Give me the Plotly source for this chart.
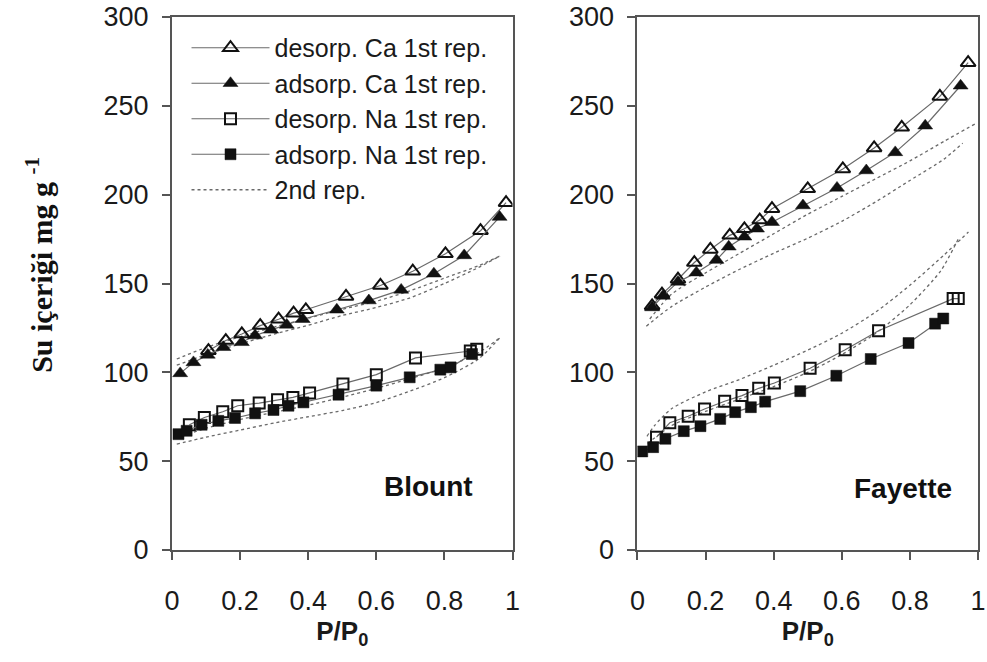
import plotly.graph_objects as go
from plotly.subplots import make_subplots

# ---------------- Blount (left panel) ----------------
b_ca_des_x = [0.107, 0.158, 0.205, 0.259, 0.313, 0.357, 0.393, 0.511, 0.612, 0.707, 0.803, 0.906, 0.981]
b_ca_des_y = [112.2, 117.9, 121.6, 126.3, 129.9, 133.3, 135.2, 142.7, 148.9, 156.9, 166.7, 179.7, 195.5]
b_ca_ads_x = [0.024, 0.063, 0.105, 0.151, 0.205, 0.244, 0.291, 0.337, 0.384, 0.484, 0.578, 0.673, 0.769, 0.858, 0.962]
b_ca_ads_y = [99.4, 105.6, 109.8, 114.1, 116.9, 120.7, 123.9, 126.7, 129.9, 135.2, 140.4, 146.4, 155.5, 165.8, 187.4]
b_na_des_x = [0.051, 0.095, 0.149, 0.193, 0.256, 0.31, 0.355, 0.404, 0.502, 0.6, 0.715, 0.876, 0.895]
b_na_des_y = [70.5, 74.6, 77.8, 81.2, 82.7, 84.6, 85.9, 88.4, 93.4, 98.7, 108.1, 112.0, 113.0]
b_na_ads_x = [0.019, 0.043, 0.087, 0.136, 0.185, 0.244, 0.298, 0.342, 0.386, 0.489, 0.6, 0.698, 0.788, 0.818, 0.881]
b_na_ads_y = [65.2, 67.1, 70.5, 72.7, 74.3, 76.9, 78.8, 81.2, 83.1, 87.4, 92.5, 97.2, 101.5, 102.8, 110.3]

b2_x = [0.014, 0.1, 0.2, 0.3, 0.4, 0.5, 0.6, 0.7, 0.8, 0.9, 0.963]
b2_ca_des_y = [107.5, 114, 120, 125.5, 130.5, 135.5, 140, 146, 153, 160, 165.5]
b2_ca_ads_y = [104, 110, 116, 121.5, 126.5, 132, 136.5, 142, 150, 159, 165.5]
b2_na_des_y = [63, 68.5, 73.5, 77.5, 81.5, 86, 91, 96.5, 102.5, 111, 119.5]
b2_na_ads_y = [59.6, 63.5, 67.5, 71.5, 75, 78.5, 83, 89.5, 97, 107.5, 119.5]

# ---------------- Fayette (right panel) ----------------
f_ca_des_x = [0.043, 0.072, 0.119, 0.167, 0.214, 0.271, 0.314, 0.359, 0.395, 0.5, 0.603, 0.695, 0.776, 0.888, 0.971]
f_ca_des_y = [137.4, 144, 152.4, 161.8, 169.2, 177.1, 180.8, 185.7, 192.1, 203.3, 214.5, 226.3, 237.9, 255.3, 274.3]
f_ca_ads_x = [0.043, 0.075, 0.119, 0.173, 0.232, 0.268, 0.314, 0.351, 0.395, 0.486, 0.586, 0.672, 0.757, 0.845, 0.949]
f_ca_ads_y = [136.5, 143, 150.9, 156.1, 163.2, 170.7, 176.3, 180.8, 184.5, 193.9, 203.8, 213.6, 223.8, 238.8, 261.3]
f_na_des_x = [0.056, 0.095, 0.149, 0.197, 0.256, 0.307, 0.356, 0.402, 0.507, 0.61, 0.708, 0.927, 0.942]
f_na_des_y = [63.5, 71.6, 75.3, 79.4, 83.7, 86.9, 91, 94, 102.3, 112.7, 123.4, 141.5, 141.5]
f_na_ads_x = [0.014, 0.046, 0.082, 0.136, 0.185, 0.243, 0.287, 0.333, 0.375, 0.478, 0.584, 0.685, 0.796, 0.874, 0.898]
f_na_ads_y = [55.5, 57.9, 62.6, 66.9, 69.7, 73.8, 77.6, 80.4, 83.5, 89.4, 98.1, 107.5, 116.5, 127.4, 130.3]

f2_ca_des_x = [0.036, 0.1, 0.2, 0.3, 0.4, 0.5, 0.6, 0.7, 0.8, 0.9, 0.993]
f2_ca_des_y = [130, 144, 156, 167, 178, 189, 199, 209, 219, 230, 240]
f2_ca_ads_x = [0.026, 0.1, 0.2, 0.3, 0.4, 0.5, 0.6, 0.7, 0.8, 0.9, 0.955]
f2_ca_ads_y = [126, 137, 148, 158, 167, 175.5, 185, 196, 208, 220, 229]
f2_na_des_x = [0.028, 0.05, 0.1, 0.2, 0.3, 0.4, 0.5, 0.6, 0.7, 0.8, 0.9, 0.972]
f2_na_des_y = [64, 70, 79.5, 89, 96, 104, 112.5, 122, 134, 149, 166, 179]
f2_na_ads_x = [0.03, 0.1, 0.2, 0.3, 0.4, 0.5, 0.6, 0.7, 0.8, 0.89, 0.942]
f2_na_ads_y = [60, 70, 78, 85, 92, 100, 110, 122, 138, 157, 175]

x_ticks = [0, 0.2, 0.4, 0.6, 0.8, 1]
x_tick_text = ["0", "0.2", "0.4", "0.6", "0.8", "1"]
y_ticks = [0, 50, 100, 150, 200, 250, 300]

legend_names = ["desorp. Ca 1st rep.", "adsorp. Ca 1st rep.",
                "desorp. Na 1st rep.", "adsorp. Na 1st rep.", "2nd rep."]
panel_labels = ["Blount", "Fayette"]
y_title = "Su içeriği mg g <sup>-1</sup>"
x_title = "<b>P/P<sub>0</sub></b>"

LINE = "#6a6a6a"
DOT = "#6a6a6a"
BLK = "#111111"
SANS = "Liberation Sans, Arial, sans-serif"

fig = make_subplots(rows=1, cols=2, horizontal_spacing=0.155)

panels = [
    dict(col=1,
         first=[(b_ca_des_x, b_ca_des_y, "triangle-up-open"),
                (b_ca_ads_x, b_ca_ads_y, "triangle-up"),
                (b_na_des_x, b_na_des_y, "square-open"),
                (b_na_ads_x, b_na_ads_y, "square")],
         second=[(b2_x, b2_ca_des_y), (b2_x, b2_ca_ads_y),
                 (b2_x, b2_na_des_y), (b2_x, b2_na_ads_y)]),
    dict(col=2,
         first=[(f_ca_des_x, f_ca_des_y, "triangle-up-open"),
                (f_ca_ads_x, f_ca_ads_y, "triangle-up"),
                (f_na_des_x, f_na_des_y, "square-open"),
                (f_na_ads_x, f_na_ads_y, "square")],
         second=[(f2_ca_des_x, f2_ca_des_y), (f2_ca_ads_x, f2_ca_ads_y),
                 (f2_na_des_x, f2_na_des_y), (f2_na_ads_x, f2_na_ads_y)]),
]

for p in panels:
    show = p["col"] == 1
    for k, (xs, ys) in enumerate(p["second"]):
        fig.add_trace(go.Scatter(
            x=xs, y=ys, mode="lines",
            line=dict(color=DOT, width=1.3, dash="3px,3px", shape="spline", smoothing=0.7),
            name=legend_names[4], legendrank=5,
            showlegend=show and k == 0), row=1, col=p["col"])
    for k, (xs, ys, sym) in enumerate(p["first"]):
        is_tri = "triangle" in sym
        fig.add_trace(go.Scatter(
            x=xs, y=ys, mode="lines+markers",
            line=dict(color=LINE, width=1.2),
            marker=dict(symbol=sym, size=13 if is_tri else 11, color=BLK,
                        line=dict(color=BLK, width=2 if "open" in sym else 0.5)),
            name=legend_names[k], legendrank=k + 1, showlegend=show),
            row=1, col=p["col"])

axis_font = dict(family=SANS, size=27, color="#1a1a1a")
for c in (1, 2):
    fig.update_xaxes(range=[0, 1], tickvals=x_ticks, ticktext=x_tick_text,
                     showline=True, linecolor="#555", linewidth=2, mirror=True,
                     ticks="outside", ticklen=8, tickcolor="#555", tickwidth=1.5,
                     showgrid=False, zeroline=False, tickfont=axis_font,
                     ticklabelstandoff=18, automargin=False, ticklabeloverflow="allow",
                     title=dict(text=x_title, font=dict(family=SANS, size=26, color="#1a1a1a"),
                                standoff=4),
                     row=1, col=c)
    fig.update_yaxes(range=[0, 300], tickvals=y_ticks,
                     showline=True, linecolor="#555", linewidth=2, mirror=True,
                     ticks="outside", ticklen=8, tickcolor="#555", tickwidth=1.5,
                     showgrid=False, zeroline=False, tickfont=axis_font,
                     ticklabelstandoff=8, automargin=False, ticklabeloverflow="allow",
                     row=1, col=c)

fig.add_annotation(text=f"<b>{panel_labels[0]}</b>", xref="x domain", yref="y domain",
                   x=0.89, y=0.12, xanchor="right", yanchor="middle", showarrow=False,
                   font=dict(family=SANS, size=28, color="#111"))
fig.add_annotation(text=f"<b>{panel_labels[1]}</b>", xref="x2 domain", yref="y2 domain",
                   x=0.93, y=0.115, xanchor="right", yanchor="middle", showarrow=False,
                   font=dict(family=SANS, size=28, color="#111"))
fig.add_annotation(text=f"<b>{y_title}</b>", xref="paper", yref="paper",
                   x=-0.165, y=0.535, xanchor="center", yanchor="middle", textangle=-90,
                   showarrow=False,
                   font=dict(family="Liberation Serif, Times New Roman, serif", size=30, color="#111"))

fig.update_layout(
    width=987, height=662,
    margin=dict(l=172, r=9, t=17, b=112, autoexpand=False),
    paper_bgcolor="white", plot_bgcolor="white",
    showlegend=True,
    legend=dict(x=0.018, y=0.985, xanchor="left", yanchor="top",
                bgcolor="rgba(0,0,0,0)", borderwidth=0, itemwidth=78,
                tracegroupgap=0,
                font=dict(family=SANS, size=25, color="#1a1a1a")),
)

# remove the default 8px page margin so the figure fills the window exactly
fig.write_html("out.html", config={"displayModeBar": False},
               post_script="document.body.style.margin='0';")
